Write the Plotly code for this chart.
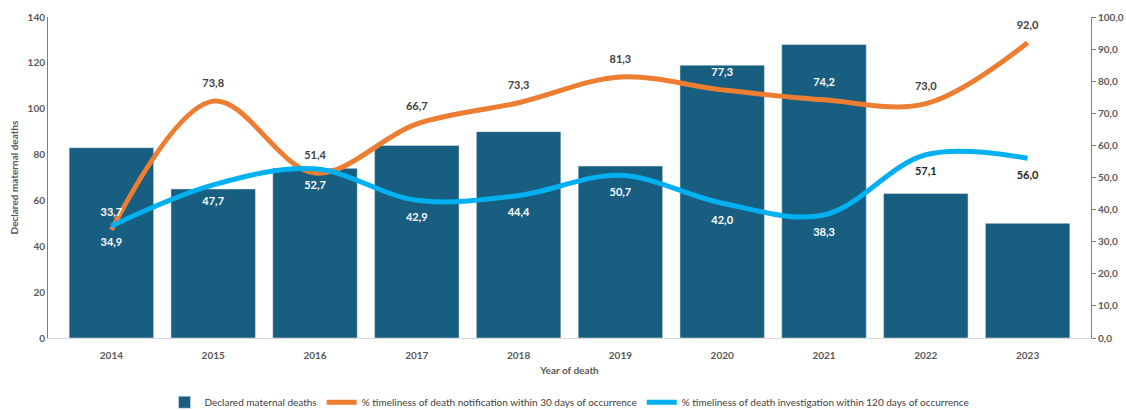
import plotly.graph_objects as go

years = ["2014", "2015", "2016", "2017", "2018", "2019", "2020", "2021", "2022", "2023"]
declared_deaths = [83, 65, 74, 84, 90, 75, 119, 128, 63, 50]
notif_30d = [33.7, 73.8, 51.4, 66.7, 73.3, 81.3, 77.3, 74.2, 73.0, 92.0]
invest_120d = [34.9, 47.7, 52.7, 42.9, 44.4, 50.7, 42.0, 38.3, 57.1, 56.0]

notif_label_colors = ["white", "#404040", "#404040", "#404040", "#404040", "#404040", "white", "white", "#404040", "#404040"]
invest_label_colors = ["white"] * 8 + ["#262626", "#262626"]

FONT = "Lato"
BAR = "#185E80"
ORANGE = "#ED7D31"
BLUE = "#00B0F0"
GREY = "#595959"

def fmt(v):
    return f"{v:.1f}".replace(".", ",")

fig = go.Figure()
fig.add_trace(go.Bar(
    x=years, y=declared_deaths, name="Declared maternal deaths",
    marker=dict(color=BAR), yaxis="y",
))
fig.add_trace(go.Scatter(
    x=years, y=notif_30d, yaxis="y2",
    name="% timeliness of death notification within 30 days of occurrence",
    mode="lines+markers+text",
    line=dict(color=ORANGE, width=5, shape="spline", smoothing=1.0),
    marker=dict(size=16, color="rgba(0,0,0,0)"),
    text=[fmt(v) for v in notif_30d], textposition="top center",
    textfont=dict(family=FONT, size=11, color=notif_label_colors, weight="bold"),
    cliponaxis=False,
))
fig.add_trace(go.Scatter(
    x=years, y=invest_120d, yaxis="y2",
    name="% timeliness of death investigation within 120 days of occurrence",
    mode="lines+markers+text",
    line=dict(color=BLUE, width=5, shape="spline", smoothing=1.0),
    marker=dict(size=18, color="rgba(0,0,0,0)"),
    text=[fmt(v) for v in invest_120d], textposition="bottom center",
    textfont=dict(family=FONT, size=11, color=invest_label_colors, weight="bold"),
    cliponaxis=False,
))

fig.update_layout(
    width=1126, height=410,
    margin=dict(l=48, r=35, t=17, b=72, autoexpand=False),
    paper_bgcolor="white", plot_bgcolor="white",
    separators=",.",
    font=dict(family=FONT, size=10, color=GREY),
    bargap=0.17,
    showlegend=True,
    legend=dict(orientation="h", x=0.5, xanchor="center", y=-0.2, yanchor="middle",
                font=dict(family=FONT, size=10, color="#404040"),
                traceorder="normal", itemwidth=30),
    xaxis=dict(
        type="category", showline=True, linecolor="#D9D9D9", linewidth=1,
        ticks="", showgrid=False, automargin=False, ticklabelstandoff=8,
        tickfont=dict(family=FONT, size=10, color=GREY, weight="bold"),
        title=dict(text="Year of death", standoff=6,
                   font=dict(family=FONT, size=10, color=GREY, weight="bold")),
    ),
    yaxis=dict(
        range=[0, 140], dtick=20, showline=True, linecolor="#7F7F7F", linewidth=1,
        showgrid=False, zeroline=False, ticks="", automargin=False,
        tickfont=dict(family=FONT, size=10, color=GREY, weight="bold"),
        title=dict(text="Declared maternal deaths", standoff=7,
                   font=dict(family=FONT, size=10, color=GREY, weight="bold")),
    ),
    yaxis2=dict(
        overlaying="y", side="right", range=[0, 100], dtick=10, tickformat=".1f",
        showline=True, linecolor="#7F7F7F", linewidth=1, showgrid=False, zeroline=False,
        ticks="outside", ticklen=4, tickcolor="#7F7F7F", automargin=False,
        tickfont=dict(family=FONT, size=10, color=GREY, weight="bold"),
    ),
)

fig.write_html("out.html", config={"displayModeBar": False},
               post_script="document.body.style.margin='0';document.body.style.overflow='hidden';")
